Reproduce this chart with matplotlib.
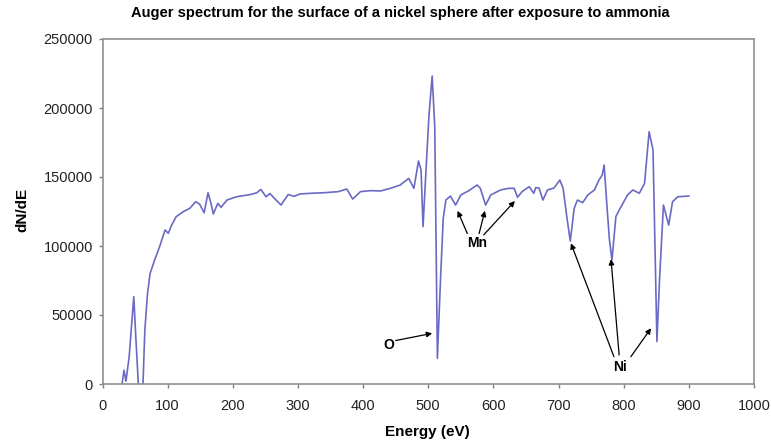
import matplotlib
matplotlib.use("Agg")
import matplotlib.pyplot as plt
from matplotlib import font_manager

names = {f.name for f in font_manager.fontManager.ttflist}
narrow = "Liberation Sans Narrow" if "Liberation Sans Narrow" in names else "Liberation Sans"
plt.rcParams['font.family'] = ['Liberation Sans', 'DejaVu Sans']

energy = [30, 33, 36, 41, 45, 48, 51, 55, 57, 60, 62, 65, 69, 73, 80, 88, 96, 101, 106,
          113, 124, 134, 143, 149, 156, 162, 167, 170, 177, 182, 191, 206, 227, 237,
          243, 251, 257, 265, 274, 285, 294, 303, 320, 340, 362, 375, 384, 396, 411,
          427, 442, 457, 470, 478, 485, 489, 492, 496, 501, 506, 510, 514, 519, 523,
          527, 534, 542, 550, 562, 575, 580, 588, 596, 611, 624, 632, 637, 644, 655,
          662, 665, 670, 676, 683, 693, 702, 707, 713, 718, 724, 729, 737, 745, 755,
          762, 767, 770, 774, 778, 782, 788, 793, 806, 814, 824, 832, 839, 845, 848,
          851, 855, 861, 869, 875, 883, 900]
dnde = [0, 10000, 2000, 20000, 45000, 63300, 35000, 0, -10000, -10000, -2000, 39000,
        65000, 80000, 89800, 100000, 111600, 109200, 115000, 121200, 124900, 127300,
        132100, 130400, 124100, 138600, 130000, 123200, 130900, 128000, 133300, 135700,
        137300, 138600, 141000, 135700, 138000, 134000, 129700, 137300, 136000, 137700,
        138200, 138600, 139400, 141300, 134000, 139400, 140100, 139900, 141800, 144200,
        149000, 141800, 161600, 155000, 114000, 150000, 193700, 223200, 186500, 18600,
        77800, 120000, 133300, 136200, 129700, 137000, 140000, 144200, 141800, 129700,
        137000, 140600, 141800, 141800, 135300, 139400, 143000, 138200, 142300, 142000,
        133300, 140600, 142000, 147800, 141800, 120000, 103500, 127300, 133300, 131400,
        137000, 140600, 147800, 151400, 158700, 130900, 105000, 89900, 121300, 126000,
        137000, 140600, 138200, 145400, 182800, 169600, 100000, 30700, 75400, 129700,
        115200, 132100, 135700, 136200]

xticks = list(range(0, 1001, 100))
yticks = list(range(0, 250001, 50000))

labels = [("O", 439, 28300), ("Mn", 575, 102000), ("Ni", 795, 12100)]
arrows = [((506, 36700), (450, 31500)),
          ((545, 125500), (560, 109000)),
          ((587, 125500), (578, 109000)),
          ((633, 132600), (585, 108000)),
          ((719, 102000), (785, 19800)),
          ((780.5, 90500), (793, 21000)),
          ((842, 40400), (811, 19800))]

fig = plt.figure(figsize=(7.71, 4.41), dpi=100)
ax = fig.add_axes([102.5 / 771, 1 - 384 / 441, (754 - 102.5) / 771, (384 - 39) / 441])

ax.plot(energy, dnde, color="#6a6ac4", lw=1.2)
ax.set_xlim(0, 1000)
ax.set_ylim(0, 250000)
ax.set_xticks(xticks)
ax.set_yticks(yticks)
ax.set_xticklabels([str(v) for v in xticks])
ax.set_yticklabels([str(v) for v in yticks])
ax.tick_params(direction="out", length=3, width=1, colors="#808080",
               labelcolor="#222222", labelsize=10.5)
ax.tick_params(axis="x", pad=8)
ax.tick_params(axis="y", pad=4)
for s in ax.spines.values():
    s.set_color("#909090")
    s.set_linewidth(1.2)

for txt, x, y in labels:
    ax.text(x, y, txt, ha="center", va="center", fontsize=10, fontweight="bold")
for tip, start in arrows:
    ax.annotate("", xy=tip, xytext=start,
                arrowprops=dict(arrowstyle="-|>", color="black", lw=0.9,
                                mutation_scale=8, shrinkA=0, shrinkB=0))

fig.text(22 / 771, 1 - 210 / 441, "dN/dE", rotation=90, ha="center", va="center",
         fontsize=11, fontweight="bold")
fig.text(427 / 771, 1 - 432 / 441, "Energy (eV)", ha="center", va="center",
         fontsize=11, fontweight="bold")

title = fig.text(400 / 771, 1 - 13 / 441,
                 "Auger spectrum for the surface of a nickel sphere after exposure to ammonia",
                 ha="center", va="center", fontsize=9, fontweight="bold", family=narrow)
fig.canvas.draw()
w = title.get_window_extent().width
title.set_fontsize(9 * 535 / w)

fig.savefig("out.png", dpi=100)
